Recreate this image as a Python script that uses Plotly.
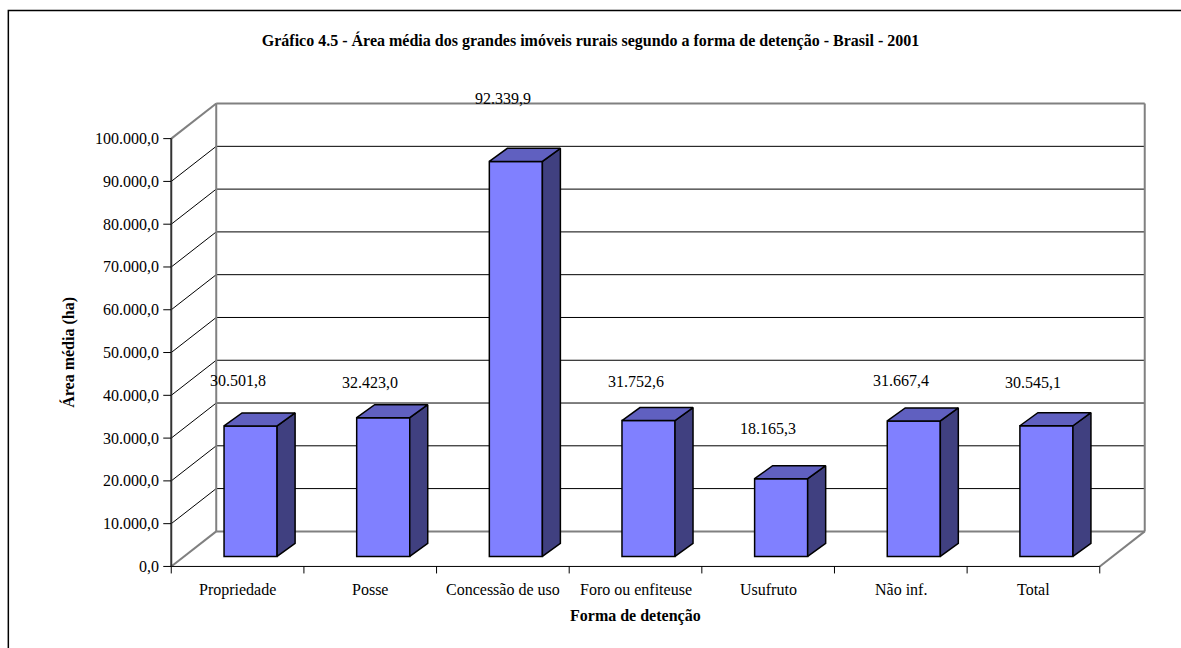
import plotly.graph_objects as go

# ---- data ----
categories = ["Propriedade", "Posse", "Concessão de uso", "Foro ou enfiteuse",
              "Usufruto", "Não inf.", "Total"]
area_media = [30501.8, 32423.0, 92339.9, 31752.6, 18165.3, 31667.4, 30545.1]
y_ticks = [0, 10000, 20000, 30000, 40000, 50000, 60000, 70000, 80000, 90000, 100000]

title_text = "Gráfico 4.5 - Área média dos grandes imóveis rurais segundo a forma de detenção - Brasil - 2001"
x_title = "Forma de detenção"
y_title = "Área média (ha)"

# ---- geometry of the pseudo-3D frame (pixels) ----
W, H = 1181, 648
PX = 132.7              # pixels per category slot
PY = 427 / 100000       # pixels per hectare
X0_PX, Y0_PX = 171, 566  # pixel of the front origin
DEPTH_PX = (45, 35)     # wall depth offset (right, up)
BAR_SHIFT_PX = (13, 10)  # bar front face pushed into the depth
BAR_DEPTH_PX = (18, 13)  # bar thickness in depth
BAR_W = 0.40            # bar width in category units
label_lift = [45, 35, 63, 39, 50, 40, 43]  # value label height above bar (px)

FONT = "Liberation Serif, Times New Roman, serif"
FS = 16
n = len(categories)
YMAX = y_ticks[-1]
DXu, DYu = DEPTH_PX[0] / PX, DEPTH_PX[1] / PY
SXu, SYu = BAR_SHIFT_PX[0] / PX, BAR_SHIFT_PX[1] / PY
BXu, BYu = BAR_DEPTH_PX[0] / PX, BAR_DEPTH_PX[1] / PY
TOP = YMAX + DYu

# axis ranges with a little padding so edge lines are not clipped
xpad, ypad = 0.1, 2000
xr = [-xpad, n + DXu + xpad]
yr = [-ypad, TOP + ypad]
m_l = X0_PX - xpad * PX
plot_w = (xr[1] - xr[0]) * PX
m_r = W - m_l - plot_w
m_b = H - (Y0_PX + ypad * PY)
plot_h = (yr[1] - yr[0]) * PY
m_t = H - m_b - plot_h


def fmt_br(v):
    s = f"{v:,.1f}"
    return s.replace(",", "X").replace(".", ",").replace("X", ".")


fig = go.Figure()

# front faces of the bars
fig.add_trace(go.Bar(
    x=[i + 0.5 + SXu for i in range(n)], y=area_media, base=SYu, width=BAR_W,
    marker=dict(color="#8080FF", line=dict(color="black", width=1.5)),
    hoverinfo="skip", showlegend=False))

# side and top faces
for i, v in enumerate(area_media):
    xl = i + 0.5 + SXu - BAR_W / 2
    xrr = xl + BAR_W
    yb = SYu
    yt = SYu + v
    fig.add_trace(go.Scatter(
        x=[xrr, xrr, xrr + BXu, xrr + BXu, xrr],
        y=[yb, yt, yt + BYu, yb + BYu, yb],
        mode="lines", fill="toself", fillcolor="#404080",
        line=dict(color="black", width=1.5), hoverinfo="skip", showlegend=False))
    fig.add_trace(go.Scatter(
        x=[xl, xrr, xrr + BXu, xl + BXu, xl],
        y=[yt, yt, yt + BYu, yt + BYu, yt],
        mode="lines", fill="toself", fillcolor="#6060C0",
        line=dict(color="black", width=1.5), hoverinfo="skip", showlegend=False))

shapes = []


def seg(x0, y0, x1, y1, color, width):
    shapes.append(dict(type="line", xref="x", yref="y", x0=x0, y0=y0, x1=x1, y1=y1,
                       line=dict(color=color, width=width), layer="below"))


# gridlines on the back wall and the left wall
for v in y_ticks[1:-1]:
    seg(0, v, DXu, v + DYu, "black", 1)
    seg(DXu, v + DYu, n + DXu, v + DYu, "black", 1)

# wall and floor outlines
GRAY = "#808080"
seg(DXu, DYu, DXu, TOP, GRAY, 2)
seg(DXu, TOP, n + DXu, TOP, GRAY, 2)
seg(n + DXu, DYu, n + DXu, TOP, GRAY, 2)
seg(DXu, DYu, n + DXu, DYu, GRAY, 2)
seg(0, YMAX, DXu, TOP, GRAY, 2)
seg(0, 0, DXu, DYu, GRAY, 2)
seg(n, 0, n + DXu, DYu, GRAY, 2)

# front axes
seg(0, 0, n, 0, "black", 1)
seg(0, 0, 0, YMAX, "#333333", 2)

# y ticks
for v in y_ticks:
    shapes.append(dict(type="line", xref="x", yref="y", xsizemode="pixel", xanchor=0,
                       x0=-8, x1=0, y0=v, y1=v, line=dict(color="black", width=1)))
# category boundary ticks
for i in range(n + 1):
    shapes.append(dict(type="line", xref="x", yref="y", ysizemode="pixel", yanchor=0,
                       x0=i, x1=i, y0=0, y1=-7, line=dict(color="black", width=1)))

# outer frame
fx = lambda p: (p - m_l) / plot_w
fy = lambda p: (H - m_b - p) / plot_h
shapes.append(dict(type="rect", xref="paper", yref="paper",
                   x0=fx(8), x1=fx(W + 10), y0=fy(11), y1=fy(H + 10),
                   line=dict(color="black", width=1.5)))

font = dict(family=FONT, size=FS, color="black")
annotations = []
for v in y_ticks:
    annotations.append(dict(x=0, y=v, xref="x", yref="y", text=fmt_br(v), showarrow=False,
                            xanchor="right", yanchor="middle", xshift=-10, font=font))
for i, c in enumerate(categories):
    annotations.append(dict(x=i + 0.5, y=0, xref="x", yref="y", text=c, showarrow=False,
                            xanchor="center", yanchor="top", yshift=-13, font=font))
for i, v in enumerate(area_media):
    annotations.append(dict(x=i + 0.5, y=SYu + v, xref="x", yref="y", text=fmt_br(v),
                            showarrow=False, xanchor="center", yanchor="middle",
                            yshift=label_lift[i], font=font))
annotations.append(dict(x=n / 2, y=0, xref="x", yref="y", text=f"<b>{x_title}</b>",
                        showarrow=False, xanchor="center", yanchor="top", yshift=-39,
                        font=font))
annotations.append(dict(x=0, y=YMAX / 2, xref="x", yref="y", text=f"<b>{y_title}</b>",
                        showarrow=False, xanchor="center", yanchor="middle", xshift=-103,
                        textangle=-90, font=font))

fig.update_layout(
    width=W, height=H,
    margin=dict(l=m_l, r=m_r, t=m_t, b=m_b, pad=0),
    paper_bgcolor="white", plot_bgcolor="white",
    title=dict(text=f"<b>{title_text}</b>", x=0.5, xref="container", xanchor="center",
               y=1 - 40 / H, yref="container", yanchor="middle", font=font),
    xaxis=dict(range=xr, visible=False, fixedrange=True),
    yaxis=dict(range=yr, visible=False, fixedrange=True),
    shapes=shapes, annotations=annotations, showlegend=False,
)

fig.write_html("out.html")
